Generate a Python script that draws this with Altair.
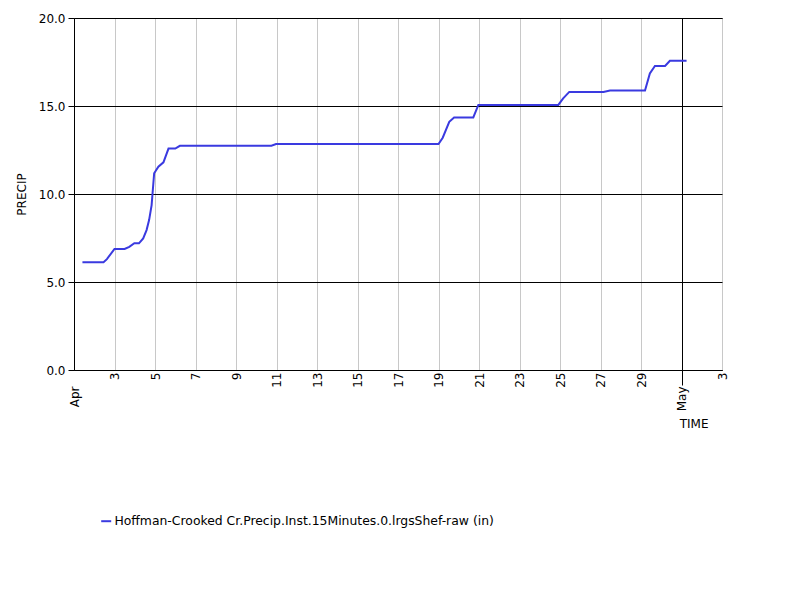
import altair as alt
import pandas as pd

SERIES_NAME = "Hoffman-Crooked Cr.Precip.Inst.15Minutes.0.lrgsShef-raw (in)"

times = [
    "2023-04-01T10:00", "2023-04-02T11:00", "2023-04-02T15:00", "2023-04-03T00:00",
    "2023-04-03T12:00", "2023-04-03T17:30", "2023-04-03T23:30", "2023-04-04T05:00",
    "2023-04-04T10:00", "2023-04-04T14:00", "2023-04-04T17:00", "2023-04-04T20:00",
    "2023-04-04T23:00", "2023-04-05T04:00", "2023-04-05T10:00", "2023-04-05T16:00",
    "2023-04-06T00:00", "2023-04-06T05:30", "2023-04-10T18:00", "2023-04-10T23:30",
    "2023-04-19T00:00", "2023-04-19T05:00", "2023-04-19T12:45", "2023-04-19T18:30",
    "2023-04-20T17:15", "2023-04-20T23:15", "2023-04-24T22:00", "2023-04-25T03:45",
    "2023-04-25T11:00", "2023-04-27T03:30", "2023-04-27T11:15", "2023-04-29T04:45",
    "2023-04-29T10:30", "2023-04-29T16:30", "2023-04-30T04:30", "2023-04-30T10:15",
    "2023-05-01T06:00",
]
precip = [
    6.12, 6.12, 6.30, 6.88,
    6.88, 7.00, 7.20, 7.20,
    7.48, 7.95, 8.52, 9.37,
    11.18, 11.55, 11.80, 12.58,
    12.58, 12.74, 12.74, 12.84,
    12.84, 13.20, 14.10, 14.35,
    14.35, 15.06, 15.06, 15.43,
    15.80, 15.80, 15.88, 15.88,
    16.85, 17.27, 17.27, 17.57,
    17.57,
]

# x tick dates (month, day)
x_ticks = [(4, d) for d in range(1, 30, 2)] + [(5, 1), (5, 3)]
y_ticks = [0, 5, 10, 15, 20]

df = pd.DataFrame({"TIME": times, "PRECIP": precip, "series": SERIES_NAME})

FONT = "DejaVu Sans"
LINE_COLOR = "#3a3ae0"
IS_MAY1 = "month(datum.value) == 4 && date(datum.value) == 1"

x_axis = alt.Axis(
    values=[alt.DateTime(year=2023, month=m, date=d) for m, d in x_ticks],
    labelExpr="date(datum.value) == 1 ? timeFormat(datum.value, '%b') : '' + date(datum.value)",
    labelAngle=270,
    labelFont=FONT,
    labelFontSize=12,
    labelColor="black",
    labelPadding={
        "condition": [
            {"test": IS_MAY1, "value": 1},
            {"test": "date(datum.value) == 1", "value": 16},
        ],
        "value": 2,
    },
    tickSize={"condition": {"test": IS_MAY1, "value": 15}, "value": 0},
    tickColor="black",
    domainColor="black",
    grid=True,
    gridColor={"condition": {"test": IS_MAY1, "value": "black"}, "value": "#c8c8c8"},
    gridOpacity=1,
    title="TIME",
    titleFont=FONT,
    titleFontSize=12,
    titleFontWeight="normal",
    titleColor="black",
    titleAngle=0,
    titleAlign="right",
    titleBaseline="top",
    titleX=634,
    titleY=48,
    labelOverlap=False,
)

y_axis = alt.Axis(
    values=y_ticks,
    format=".1f",
    labelFont=FONT,
    labelFontSize=12,
    labelColor="black",
    labelPadding=3,
    tickSize=6,
    tickColor="black",
    domainColor="black",
    grid=True,
    gridColor="black",
    gridOpacity=1,
    title="PRECIP",
    titleFont=FONT,
    titleFontSize=12,
    titleFontWeight="normal",
    titleColor="black",
    titlePadding=10,
)

chart = (
    alt.Chart(df)
    .mark_line(strokeWidth=2, interpolate="linear")
    .encode(
        x=alt.X(
            "TIME:T",
            scale=alt.Scale(
                domain=[
                    alt.DateTime(year=2023, month=4, date=1),
                    alt.DateTime(year=2023, month=5, date=3),
                ],
                nice=False,
            ),
            axis=x_axis,
        ),
        y=alt.Y("PRECIP:Q", scale=alt.Scale(domain=[0, 20], nice=False), axis=y_axis),
        color=alt.Color(
            "series:N",
            scale=alt.Scale(domain=[SERIES_NAME], range=[LINE_COLOR]),
            legend=alt.Legend(
                title=None,
                orient="none",
                legendX=26,
                legendY=497,
                padding=0,
                symbolType="stroke",
                symbolSize=100,
                symbolStrokeWidth=2,
                labelFont=FONT,
                labelFontSize=12.4,
                labelColor="black",
                labelOffset=2,
                labelLimit=0,
            ),
        ),
    )
    .properties(
        width=648,
        height=352,
        autosize=alt.AutoSizeParams(type="none"),
        padding={"left": 66, "top": 10, "right": 62, "bottom": 210},
        background="white",
    )
    .configure_view(stroke="black", strokeWidth=1)
)

chart.save("out.html", embed_options={"renderer": "svg", "actions": False})
